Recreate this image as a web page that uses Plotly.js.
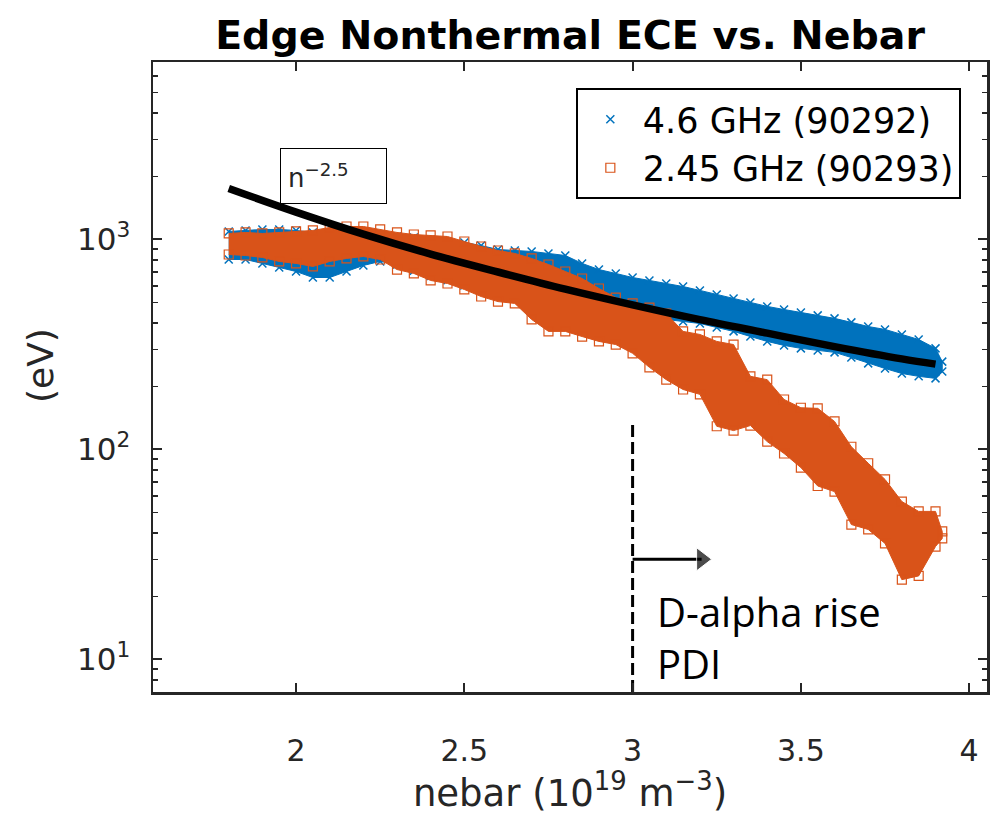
<!DOCTYPE html>
<html>
<head>
<meta charset="utf-8">
<script src="https://cdn.plot.ly/plotly-3.0.1.min.js"></script>
<style>html,body{margin:0;padding:0;background:#fff;}#chart{width:995px;height:815px;}</style>
</head>
<body>
<div id="chart"></div>
<script>
// nebar grid (10^19 m^-3) at which the band envelopes were read
const nebar = [1.80,1.85,1.90,1.95,2.00,2.05,2.10,2.15,2.20,2.25,2.30,2.35,2.40,2.45,2.50,2.55,2.60,2.65,2.70,2.75,2.80,2.85,2.90,2.95,3.00,3.05,3.10,3.15,3.20,3.25,3.30,3.35,3.40,3.45,3.50,3.55,3.60,3.65,3.70,3.75,3.80,3.85,3.90,3.92];
// 4.6 GHz (90292) point cloud: upper / lower envelope (eV)
const ghz46Upper = [1092,1104,1116,1116,1104,1080,1056,1068,1068,1056,1033,1022,1000,978,968,936,896,886,877,858,839,769,719,689,659,638,617,597,572,547,524,501,480,464,449,435,421,403,385,373,353,334,303,262];
const ghz46Lower = [803,803,769,736,704,659,659,704,752,786,760,710,670,640,604,578,553,529,512,496,480,469,459,444,435,425,416,407,398,381,365,345,327,313,303,296,290,274,257,243,230,223,218,235];
// 2.45 GHz (90293) point cloud: upper / lower envelope (eV)
const ghz245Upper = [1068,1080,1068,1080,1092,1104,1141,1153,1153,1116,1080,1056,1045,1033,978,926,886,858,812,760,704,652,584,529,496,474,444,365,353,327,316,223,215,173,158,157,136,103,86,72,56.5,50.7,50.7,40.7];
const ghz245Lower = [848,839,821,786,769,744,786,812,830,803,719,689,638,617,578,535,506,496,416,365,365,345,327,316,287,246,215,193,183,129,123,130,109,95.7,82,67,63,43.9,41.6,35.7,24,25,34.5,37.7];
// n^-2.5 fit curve
const fitX = [1.8,2.0,2.2,2.4,2.6,2.8,3.0,3.2,3.4,3.6,3.8,3.9];
const fitY = [1750,1350,1060,852,700,580,488,415,358,309,270,255];
// D-alpha rise / PDI marker
const pdiX = [3.0,3.0];
const pdiY = [7,136];
const arrowX = [3.0,3.205];
const arrowY = [30,30];
// labels
const seriesNames = ['4.6 GHz (90292)','2.45 GHz (90293)'];
const xTicks = [2,2.5,3,3.5,4];
const xTickText = ['2','2.5','3','3.5','4'];
const yTicks = [10,100,1000];
const yTickText = ['10<sup>1</sup>','10<sup>2</sup>','10<sup>3</sup>'];

const BLUE = '#0072BD', ORANGE = '#D95319', AX = '#262626';

function band(x, up, lo) {
  return {x: x.concat(x.slice().reverse()), y: up.concat(lo.slice().reverse())};
}
const b46 = band(nebar, ghz46Upper, ghz46Lower);
const b245 = band(nebar, ghz245Upper, ghz245Lower);

const minorVals = [];
[1,10,100,1000].forEach(function(d){ for (let k=2;k<=9;k++) minorVals.push(k*d); });

const traces = [
  {x: b46.x, y: b46.y, type:'scatter', mode:'lines', fill:'toself', fillcolor: BLUE,
   line:{color: BLUE, width:1}, showlegend:false, hoverinfo:'skip'},
  {x: nebar.concat(nebar), y: ghz46Upper.concat(ghz46Lower), type:'scatter', mode:'markers',
   name: seriesNames[0], marker:{symbol:'x-thin-open', size:8, color: BLUE, line:{color: BLUE, width:1.5}}},
  {x: b245.x, y: b245.y, type:'scatter', mode:'lines', fill:'toself', fillcolor: ORANGE,
   line:{color: ORANGE, width:1}, showlegend:false, hoverinfo:'skip'},
  {x: nebar.concat(nebar), y: ghz245Upper.concat(ghz245Lower), type:'scatter', mode:'markers',
   name: seriesNames[1], marker:{symbol:'square-open', size:9, color: ORANGE, line:{color: ORANGE, width:1.2}}},
  {x: fitX, y: fitY, type:'scatter', mode:'lines', line:{color:'#000', width:7.5, shape:'spline'},
   showlegend:false, hoverinfo:'skip'},
  {x: pdiX, y: pdiY, type:'scatter', mode:'lines', line:{color:'#000', width:3, dash:'12px,5px'},
   showlegend:false, hoverinfo:'skip', cliponaxis:false},
  {x: arrowX, y: arrowY, type:'scatter', mode:'lines+markers', line:{color:'#000', width:3},
   marker:{symbol:'triangle-right', size:[0,20], color:'#000'}, showlegend:false, hoverinfo:'skip'}
];

const layout = {
  width: 995, height: 815,
  margin: {l:153, r:8, t:62, b:123},
  paper_bgcolor:'#fff', plot_bgcolor:'#fff',
  font: {family:'DejaVu Sans', color: AX},
  showlegend: true,
  title: {text:'Edge Nonthermal ECE vs. Nebar', xref:'paper', x:0.5, xanchor:'center',
          yref:'container', y:0.957, yanchor:'middle',
          font:{family:'DejaVu Sans', size:39.5, weight:'bold', color:'#000'}},
  xaxis: {range:[1.575,4.053], tickmode:'array', tickvals:xTicks, ticktext:xTickText,
          ticks:'inside', ticklen:9, tickwidth:2, tickcolor:AX,
          showline:true, linecolor:AX, linewidth:2.5, mirror:'allticks',
          showgrid:false, zeroline:false, tickfont:{size:30, color:AX}, ticklabelstandoff:30,
          title:{text:'nebar (10<sup>19</sup> m<sup>−3</sup>)', font:{size:37, color:AX}, standoff:6}},
  yaxis: {type:'log', range:[Math.log10(7), Math.log10(7000)], tickmode:'array', tickvals:yTicks, ticktext:yTickText,
          ticks:'inside', ticklen:9, tickwidth:2, tickcolor:AX,
          minor:{tickmode:'array', tickvals:minorVals, ticks:'inside', ticklen:5, tickwidth:1.5, tickcolor:AX, showgrid:false},
          showline:true, linecolor:AX, linewidth:2.5, mirror:'allticks',
          showgrid:false, zeroline:false, tickfont:{size:31, color:AX}, ticklabelstandoff:14},
  legend: {x:0.507, y:0.9587, xanchor:'left', yanchor:'top', bordercolor:'#000', borderwidth:2,
           bgcolor:'#fff', font:{family:'DejaVu Sans', size:35, color:'#000'}, itemwidth:55, tracegroupgap:0},
  annotations: [
    {xref:'paper', yref:'paper', x:-0.1355, y:0.519, text:'(eV)', textangle:-90, showarrow:false,
     xanchor:'center', yanchor:'middle', font:{family:'DejaVu Sans', size:36, color:AX}},
    {xref:'x', yref:'y', x:2.111, y:3.3, text:'n<sup>−2.5</sup>', showarrow:false,
     bordercolor:'#000', borderwidth:1, bgcolor:'#fff', width:91, height:40, borderpad:7, align:'left', valign:'middle',
     font:{family:'DejaVu Sans', size:26, color:AX}},
    {xref:'x', yref:'y', x:3.067, y:1.105, xanchor:'left', yanchor:'middle', align:'left', showarrow:false,
     text:'D-alpha rise<br>PDI', font:{family:'Open Sans', size:40, color:'#000'}}
  ]
};

Plotly.newPlot('chart', traces, layout, {displayModeBar:false, staticPlot:true});
</script>
</body>
</html>
